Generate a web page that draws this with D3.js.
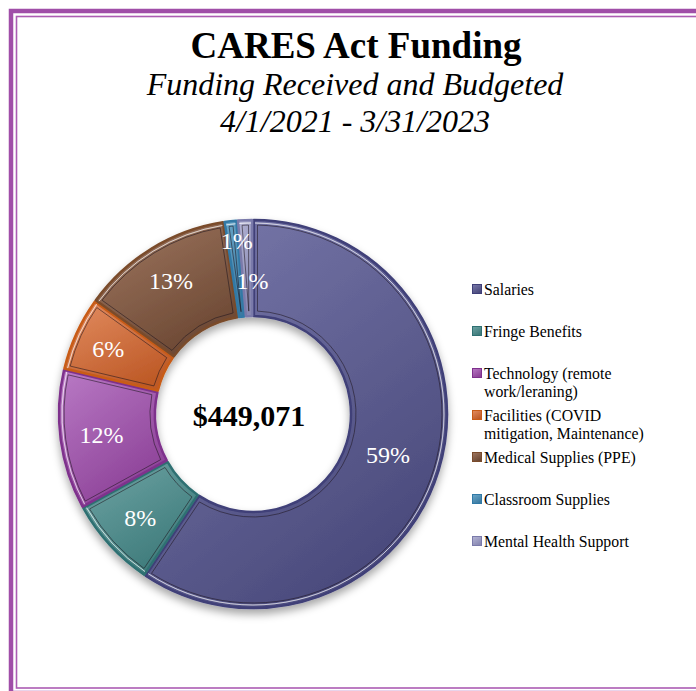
<!DOCTYPE html>
<html>
<head>
<meta charset="utf-8">
<script src="https://cdn.jsdelivr.net/npm/d3@7/dist/d3.min.js"></script>
<style>
  html, body { margin: 0; padding: 0; background: #ffffff; }
  svg { display: block; }
</style>
</head>
<body>
<script>
// ---- data ----
const categories = [
  "Salaries",
  "Fringe Benefits",
  "Technology (remote work/leraning)",
  "Facilities (COVID mitigation, Maintenance)",
  "Medical Supplies (PPE)",
  "Classroom Supplies",
  "Mental Health Support"
];
const legendLines = [
  ["Salaries"],
  ["Fringe Benefits"],
  ["Technology (remote", "work/leraning)"],
  ["Facilities (COVID", "mitigation, Maintenance)"],
  ["Medical Supplies (PPE)"],
  ["Classroom Supplies"],
  ["Mental Health Support"]
];
const values = [266751, 34130, 52540, 27840, 57030, 4940, 5840];
const titleText = "CARES Act Funding";
const subtitleLines = ["Funding Received and Budgeted", "4/1/2021 - 3/31/2023"];

// ---- styles ----
const lightColors = ["#7A7AAC", "#6FA5A5", "#B97AC5", "#E38D62", "#A07862", "#6CA8CA", "#B6B6D6"];
const darkColors  = ["#4A4A7C", "#3D7A7A", "#8C4197", "#BE5A27", "#6C4833", "#3A7AA2", "#8888B2"];
const edgeColors  = ["#3F3F78", "#2F7072", "#7E308C", "#C85B18", "#7A4B2B", "#3079A6", "#7A7AAA"];
const serif = "'Liberation Serif', 'Times New Roman', Times, serif";

const W = 696, H = 691;
const cx = 253, cy = 414, rOuter = 194, rInner = 98;

const svg = d3.select("body").append("svg")
  .attr("width", W).attr("height", H);

const defs = svg.append("defs");
const shadow = defs.append("filter").attr("id", "shadow")
  .attr("x", "-20%").attr("y", "-20%").attr("width", "140%").attr("height", "140%");
shadow.append("feDropShadow").attr("dx", 0).attr("dy", 5).attr("stdDeviation", 4)
  .attr("flood-color", "#000").attr("flood-opacity", 0.35);

categories.forEach((c, i) => {
  const g = defs.append("linearGradient").attr("id", "grad" + i)
    .attr("x1", "0%").attr("y1", "0%").attr("x2", "60%").attr("y2", "100%");
  g.append("stop").attr("offset", "0%").attr("stop-color", lightColors[i]);
  g.append("stop").attr("offset", "100%").attr("stop-color", darkColors[i]);
});

// ---- frame ----
svg.append("rect").attr("x", 11).attr("y", 11).attr("width", 720).attr("height", 682)
  .attr("fill", "none").attr("stroke", "#A04EA8").attr("stroke-width", 4.5);
svg.append("rect").attr("x", 16.5).attr("y", 16.5).attr("width", 720).attr("height", 671.5)
  .attr("fill", "none").attr("stroke", "#AC5CB3").attr("stroke-width", 1.6);

// ---- titles ----
svg.append("text").attr("x", 356).attr("y", 58).attr("text-anchor", "middle")
  .attr("font-family", serif).attr("font-weight", "bold").attr("font-size", 37)
  .attr("fill", "#000").text(titleText);
subtitleLines.forEach((t, i) => {
  svg.append("text").attr("x", 355).attr("y", 95 + i * 37).attr("text-anchor", "middle")
    .attr("font-family", serif).attr("font-style", "italic").attr("font-size", 32)
    .attr("fill", "#000").text(t);
});

// ---- donut ----
const pie = d3.pie().sort(null).value(d => d).startAngle(0).endAngle(2 * Math.PI);
const arcs = pie(values);
const total = d3.sum(values);

const arcMain = d3.arc().innerRadius(rInner).outerRadius(rOuter)
  .padAngle(0.009).padRadius(rOuter);
const arcInset = d3.arc().innerRadius(rInner + 5).outerRadius(rOuter - 5)
  .padAngle(0.06).padRadius(150);

const gDonut = svg.append("g").attr("transform", `translate(${cx},${cy})`);
const gShadow = gDonut.append("g").attr("filter", "url(#shadow)");

gShadow.selectAll("path.slice").data(arcs).join("path")
  .attr("class", "slice")
  .attr("d", arcMain)
  .attr("fill", (d, i) => `url(#grad${i})`)
  .attr("stroke", (d, i) => edgeColors[i])
  .attr("stroke-width", 2.5)
  .attr("stroke-linejoin", "round");

gDonut.selectAll("path.inset").data(arcs).join("path")
  .attr("class", "inset")
  .attr("d", arcInset)
  .attr("fill", "none")
  .attr("stroke", "rgba(30,20,30,0.55)")
  .attr("stroke-width", 1);

// thin highlight along outer rim
const arcRim = d3.arc().innerRadius(rOuter - 3).outerRadius(rOuter - 3).padAngle(0.02).padRadius(rOuter);
gDonut.selectAll("path.rim").data(arcs).join("path")
  .attr("class", "rim")
  .attr("d", arcRim)
  .attr("fill", "none")
  .attr("stroke", "rgba(255,255,255,0.45)")
  .attr("stroke-width", 1);

// percent labels
const labelRadius = [141, 153, 153, 159, 157, 175, 134];
const labelShiftX = [0, 0, 0, 0, 0, 4, 5];
const pctFmt = d3.format(".0%");
gDonut.selectAll("text.pct").data(arcs).join("text")
  .attr("class", "pct")
  .attr("transform", (d, i) => {
    const a = (d.startAngle + d.endAngle) / 2;
    const r = labelRadius[i];
    return `translate(${r * Math.sin(a) + labelShiftX[i]},${-r * Math.cos(a)})`;
  })
  .attr("dy", "0.35em")
  .attr("text-anchor", "middle")
  .attr("font-family", serif)
  .attr("font-size", 24)
  .attr("fill", "#ffffff")
  .text(d => pctFmt(d.value / total));

// center total
gDonut.append("text")
  .attr("x", -4).attr("y", 1).attr("dy", "0.35em")
  .attr("text-anchor", "middle")
  .attr("font-family", serif).attr("font-weight", "bold").attr("font-size", 30)
  .attr("fill", "#000")
  .text(d3.format("$,")(total));

// ---- legend ----
const legY = d3.scalePoint().domain(categories).range([295, 547]);
const gLeg = svg.append("g");
categories.forEach((c, i) => {
  const y = legY(c);
  gLeg.append("rect").attr("x", 472.5).attr("y", y - 10.5).attr("width", 9).attr("height", 9)
    .attr("fill", `url(#grad${i})`).attr("stroke", edgeColors[i]).attr("stroke-width", 1);
  const t = gLeg.append("text").attr("font-family", serif).attr("font-size", 15.8).attr("fill", "#000");
  legendLines[i].forEach((ln, j) => {
    t.append("tspan").attr("x", 484).attr("y", y + j * 18).text(ln);
  });
});
</script>
</body>
</html>
